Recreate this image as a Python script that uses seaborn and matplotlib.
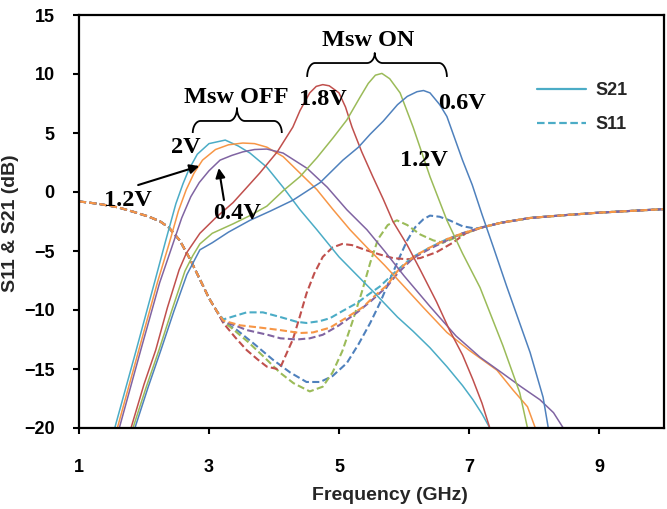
import numpy as np
import pandas as pd
import matplotlib.pyplot as plt
import seaborn as sns
from matplotlib.lines import Line2D

# S21 (solid) traces, Msw OFF: 2V, 1.2V, 0.4V ; Msw ON: 1.8V, 1.2V, 0.6V
s21_off_2v_x = [1.55, 1.88, 2.17, 2.33, 2.49, 2.6, 2.69, 2.82, 3.0, 3.25, 3.45, 3.63, 3.89, 4.14,
                4.4, 4.66, 5.0, 5.25, 5.52, 5.9, 6.14, 6.4, 6.66, 6.9, 7.06, 7.2, 7.32]
s21_off_2v_y = [-20, -13.4, -7.5, -4.2, -1.0, 0.7, 1.9, 3.2, 4.1, 4.4, 3.9, 3.3, 2.1, 0.4,
                -1.5, -3.2, -5.5, -6.9, -8.4, -10.6, -11.8, -13.2, -14.8, -16.4, -17.6, -18.8, -20]

s21_off_12v_x = [1.59, 1.92, 2.21, 2.38, 2.53, 2.65, 2.77, 2.9, 3.1, 3.3, 3.52, 3.7, 3.89, 4.14,
                 4.4, 4.66, 4.91, 5.17, 5.43, 5.7, 6.0, 6.3, 6.66, 7.0, 7.43, 7.68, 7.9, 8.02]
s21_off_12v_y = [-20, -13.4, -7.6, -4.5, -1.6, 0.2, 1.6, 2.7, 3.6, 4.0, 4.15, 4.1, 3.8, 3.0,
                 1.6, 0.2, -1.5, -3.2, -4.7, -6.2, -8.0, -9.8, -11.9, -13.4, -15.1, -16.8, -18.2, -20]

s21_off_04v_x = [1.62, 1.95, 2.24, 2.42, 2.58, 2.72, 2.85, 3.0, 3.17, 3.35, 3.52, 3.7, 3.89, 4.14,
                 4.51, 4.82, 5.12, 5.43, 5.7, 6.0, 6.4, 6.8, 7.17, 7.5, 7.8, 8.09, 8.3, 8.45]
s21_off_04v_y = [-20, -13.4, -7.7, -4.8, -2.2, -0.4, 0.8, 1.8, 2.7, 3.1, 3.4, 3.6, 3.64, 3.3,
                 2.0, 0.4, -1.5, -3.2, -5.0, -7.1, -9.7, -12.2, -14.0, -15.3, -16.5, -17.6, -18.7, -20]

s21_on_18v_x = [1.8, 2.0, 2.18, 2.36, 2.54, 2.65, 2.86, 3.1, 3.37, 3.6, 3.78, 4.05, 4.29, 4.4,
                4.55, 4.65, 4.75, 4.85, 5.0, 5.1, 5.2, 5.35, 5.52, 5.68, 5.83, 6.05, 6.25, 6.5,
                6.7, 6.9, 7.06, 7.2, 7.32]
s21_on_18v_y = [-20, -16.3, -13.4, -9.8, -6.6, -5.2, -3.5, -2.2, -0.9, 0.5, 1.6, 3.4, 5.5, 6.9,
                8.4, 8.95, 9.1, 9.0, 8.4, 7.2, 5.5, 3.4, 1.3, -0.6, -2.5, -4.5, -6.6, -9.3,
                -11.7, -13.8, -15.9, -17.9, -20]

s21_on_12v_x = [1.83, 2.03, 2.23, 2.43, 2.63, 2.75, 2.86, 3.05, 3.37, 3.63, 3.89, 4.14, 4.4, 4.66,
                4.91, 5.12, 5.32, 5.45, 5.56, 5.66, 5.78, 5.94, 6.14, 6.4, 6.66, 6.9, 7.17, 7.52,
                7.78, 7.9]
s21_on_12v_y = [-20, -16.6, -13.4, -10.0, -6.7, -5.4, -4.4, -3.5, -2.7, -2.0, -1.2, 0.1, 1.3, 2.9,
                4.6, 6.1, 8.0, 9.2, 9.9, 10.05, 9.6, 8.4, 5.5, 1.3, -2.4, -5.2, -8.1, -13.0,
                -17.0, -20]

s21_on_06v_x = [1.86, 2.06, 2.26, 2.46, 2.66, 2.86, 3.05, 3.3, 3.63, 3.95, 4.29, 4.71, 5.06, 5.3,
                5.48, 5.68, 5.9, 6.05, 6.2, 6.3, 6.4, 6.55, 6.66, 6.9, 7.05, 7.2, 7.37, 7.58,
                7.94, 8.14, 8.22]
s21_on_06v_y = [-20, -16.6, -13.4, -10.1, -7.0, -4.9, -4.3, -3.4, -2.4, -1.6, -0.7, 0.8, 2.7, 3.8,
                4.9, 6.0, 7.4, 8.1, 8.5, 8.6, 8.4, 7.4, 6.4, 2.7, 0.6, -1.9, -4.6, -8.0,
                -13.6, -17.4, -20]

# S11 (dashed): shared start and end, separate middle sections
s11_head_x = [1.0, 1.3, 1.6, 1.85, 2.08, 2.25, 2.38, 2.55, 2.7, 2.86, 3.0, 3.12]
s11_head_y = [-0.8, -1.0, -1.3, -1.7, -2.1, -2.5, -3.0, -4.1, -5.6, -7.4, -9.0, -10.1]
s11_tail_x = [7.2, 7.5, 7.94, 8.5, 9.0, 9.5, 10.0]
s11_tail_y = [-3.0, -2.6, -2.2, -1.95, -1.75, -1.6, -1.45]

s11_off_2v_x = [3.22, 3.4, 3.58, 3.83, 4.1, 4.35, 4.5, 4.7, 4.86, 5.05, 5.28, 5.45, 5.63, 5.9,
                6.14, 6.4, 6.66, 6.9]
s11_off_2v_y = [-10.8, -10.5, -10.2, -10.2, -10.6, -11.0, -11.1, -10.95, -10.7, -10.1, -9.4, -8.7,
                -8.0, -6.6, -5.5, -4.7, -4.0, -3.5]
s11_off_12v_x = [3.22, 3.48, 3.8, 4.09, 4.4, 4.6, 4.86, 5.1, 5.37, 5.55, 5.74, 5.9, 6.14, 6.4,
                 6.66, 6.9]
s11_off_12v_y = [-10.9, -11.3, -11.5, -11.7, -11.95, -11.9, -11.5, -10.7, -9.75, -8.8, -7.9, -6.7,
                 -5.5, -4.7, -4.0, -3.5]
s11_off_04v_x = [3.22, 3.4, 3.58, 3.9, 4.1, 4.35, 4.55, 4.75, 5.0, 5.28, 5.5, 5.74, 5.9, 6.14,
                 6.4, 6.66, 6.9]
s11_off_04v_y = [-11.0, -11.3, -11.7, -12.1, -12.4, -12.5, -12.4, -12.1, -11.3, -10.2, -9.2, -8.0,
                 -6.9, -5.6, -4.8, -4.1, -3.5]
s11_on_18v_x = [3.22, 3.4, 3.58, 3.75, 3.89, 4.05, 4.12, 4.2, 4.29, 4.4, 4.5, 4.62, 4.75, 4.9,
                5.05, 5.2, 5.4, 5.63, 5.83, 6.05, 6.25, 6.5, 6.75, 6.95]
s11_on_18v_y = [-11.1, -12.3, -13.4, -14.2, -14.8, -15.0, -14.6, -13.6, -12.5, -10.5, -8.6, -6.9,
                -5.5, -4.7, -4.4, -4.5, -4.9, -5.3, -5.6, -5.7, -5.6, -5.1, -4.3, -3.5]
s11_on_12v_x = [3.22, 3.32, 3.6, 3.85, 4.09, 4.3, 4.55, 4.75, 4.9, 5.05, 5.2, 5.35, 5.48, 5.6,
                5.75, 5.89, 6.05, 6.25, 6.45, 6.6, 6.82, 7.0]
s11_on_12v_y = [-11.0, -11.4, -12.7, -14.0, -15.3, -16.2, -16.9, -16.5, -15.3, -13.5, -11.1, -8.5,
                -6.0, -4.0, -2.8, -2.4, -2.8, -3.6, -4.1, -4.3, -3.8, -3.4]
s11_on_06v_x = [3.22, 3.43, 3.7, 3.98, 4.25, 4.5, 4.71, 4.9, 5.12, 5.3, 5.48, 5.63, 5.8, 5.95,
                6.05, 6.17, 6.3, 6.4, 6.55, 6.7, 6.9, 7.1]
s11_on_06v_y = [-11.0, -11.7, -12.9, -14.2, -15.3, -16.1, -16.1, -15.6, -14.5, -12.9, -11.1, -9.4,
                -7.2, -5.3, -4.1, -3.0, -2.3, -2.0, -2.1, -2.4, -2.9, -3.1]

colors = {
    'off_2v': '#4BACC6', 'off_12v': '#F79646', 'off_04v': '#8064A2',
    'on_18v': '#C0504D', 'on_12v': '#9BBB59', 'on_06v': '#4F81BD',
}

s21 = {
    'off_2v': (s21_off_2v_x, s21_off_2v_y), 'off_12v': (s21_off_12v_x, s21_off_12v_y),
    'off_04v': (s21_off_04v_x, s21_off_04v_y), 'on_18v': (s21_on_18v_x, s21_on_18v_y),
    'on_12v': (s21_on_12v_x, s21_on_12v_y), 'on_06v': (s21_on_06v_x, s21_on_06v_y),
}
s11 = {
    'on_06v': (s11_on_06v_x, s11_on_06v_y), 'on_12v': (s11_on_12v_x, s11_on_12v_y),
    'on_18v': (s11_on_18v_x, s11_on_18v_y), 'off_2v': (s11_off_2v_x, s11_off_2v_y),
    'off_04v': (s11_off_04v_x, s11_off_04v_y), 'off_12v': (s11_off_12v_x, s11_off_12v_y),
}

rows21 = []
for k, (xs, ys) in s21.items():
    for x, y in zip(xs, ys):
        rows21.append((k, x, y))
df21 = pd.DataFrame(rows21, columns=['trace', 'freq', 'db'])

rows11 = []
for k, (xs, ys) in s11.items():
    for x, y in zip(s11_head_x + xs + s11_tail_x, s11_head_y + ys + s11_tail_y):
        rows11.append((k, x, y))
df11 = pd.DataFrame(rows11, columns=['trace', 'freq', 'db'])
df11['kind'] = 'S11'

sns.set_style('white')
plt.rcParams['font.family'] = ['Liberation Sans', 'DejaVu Sans']

fig = plt.figure(figsize=(6.67, 5.09), dpi=100)
ax = fig.add_axes([79 / 667, 1 - 428 / 509, 585 / 667, 413 / 509])

sns.lineplot(data=df11, x='freq', y='db', hue='trace', style='kind',
             dashes={'S11': (3.4, 1.6)}, palette=colors, estimator=None, sort=False,
             legend=False, linewidth=1.5, ax=ax)
sns.lineplot(data=df21, x='freq', y='db', hue='trace', palette=colors, estimator=None,
             sort=False, legend=False, linewidth=1.1, ax=ax)

ax.set_xlim(1, 10)
ax.set_ylim(-20, 15)
ax.set_xticks([1, 3, 5, 7, 9])
ax.set_yticks(np.arange(-20, 16, 5))
for s in ax.spines.values():
    s.set_linewidth(1.6)
    s.set_color('black')
ax.tick_params(axis='both', direction='out', length=4.5, width=1.5, colors='black',
               labelsize=13, left=True, bottom=True)
ax.tick_params(axis='y', pad=13)
ax.tick_params(axis='x', pad=18)
for lab in ax.get_xticklabels() + ax.get_yticklabels():
    lab.set_fontweight('bold')

ax.set_xlabel('Frequency (GHz)', fontsize=14, fontweight='bold')
ax.set_ylabel('S11 & S21 (dB)', fontsize=14, fontweight='bold')
ax.xaxis.label.set_va('center')
ax.xaxis.set_label_coords((390 - 79) / 585, (428 - 496) / 413)
ax.yaxis.label.set_va('center')
ax.yaxis.set_label_coords((11 - 79) / 585, (428 - 223) / 413)

handles = [Line2D([0], [0], color='#4BACC6', lw=1.6),
           Line2D([0], [0], color='#4BACC6', lw=1.6, dashes=(3.4, 1.6))]
ax.legend(handles, ['S21', 'S11'], loc='upper left', bbox_to_anchor=(0.768, 0.86),
          frameon=False, borderpad=0, handlelength=2.7, handletextpad=0.5,
          labelspacing=0.95, prop={'family': 'Liberation Sans', 'weight': 'bold', 'size': 13})


def brace(x0, x1, xm, y_end, y_mid, y_tip, rx):
    t = np.linspace(0, np.pi / 2, 20)
    px = np.concatenate([x0 + rx * (1 - np.cos(t)), xm - rx + rx * np.sin(t),
                         xm + rx * (1 - np.cos(t)), x1 - rx + rx * np.sin(t)])
    py = np.concatenate([y_end + (y_mid - y_end) * np.sin(t),
                         y_mid + (y_tip - y_mid) * (1 - np.cos(t)),
                         y_tip - (y_tip - y_mid) * np.sin(t),
                         y_mid - (y_mid - y_end) * (1 - np.cos(t))])
    ax.plot(px, py, color='black', lw=1.3, solid_capstyle='butt')


brace(2.75, 4.12, 3.43, 5.0, 6.02, 7.12, 0.12)
brace(4.51, 6.66, 5.55, 9.75, 10.93, 11.78, 0.12)

serif = dict(family=['Liberation Serif', 'DejaVu Serif'], fontweight='bold', fontsize=17.5,
             ha='center', va='center', color='black')
ax.text(3.42, 7.97, 'Msw OFF', **serif)
ax.text(5.45, 12.8, 'Msw ON', **serif)
ax.text(4.75, 7.8, '1.8V', **serif)
ax.text(6.89, 7.54, '0.6V', **serif)
ax.text(6.31, 2.63, '1.2V', **serif)
ax.text(2.65, 3.73, '2V', **serif)
ax.text(1.75, -0.76, '1.2V', **serif)
ax.text(3.43, -1.86, '0.4V', **serif)

arrow = dict(arrowstyle='-|>', color='black', lw=1.5, mutation_scale=14, shrinkA=0, shrinkB=0)
ax.annotate('', xy=(2.85, 2.2), xytext=(1.91, 0.59), arrowprops=arrow)
ax.annotate('', xy=(3.15, 2.03), xytext=(3.23, -0.68), arrowprops=arrow)

fig.savefig('out.png', dpi=100)
